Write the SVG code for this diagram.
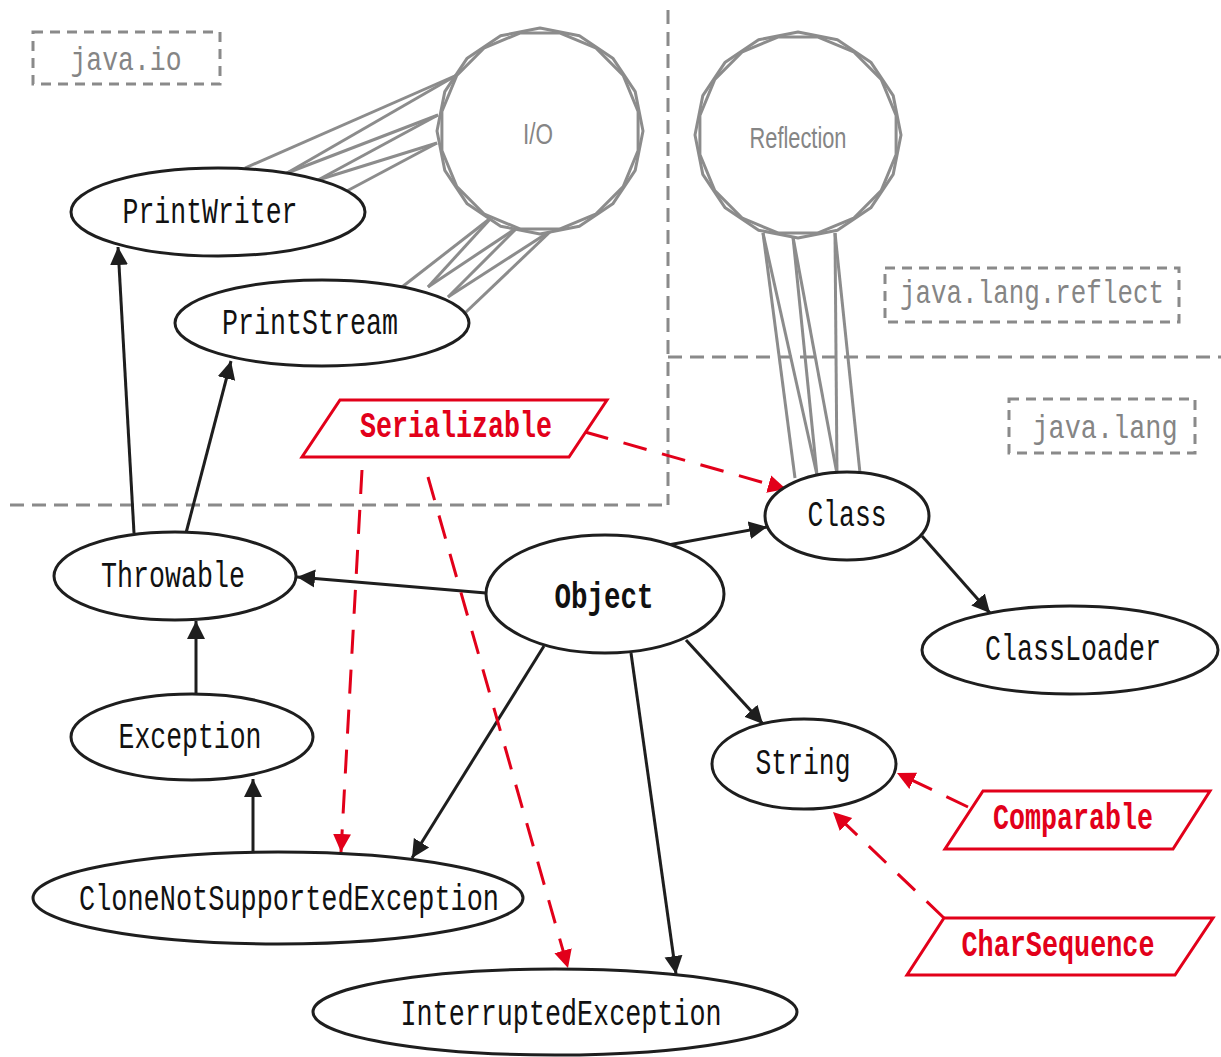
<svg xmlns="http://www.w3.org/2000/svg" width="1221" height="1057" viewBox="0 0 1221 1057">
<style>
.node{fill:#fff;stroke:#1e1e1e;stroke-width:3}
.lbl{font-family:"Liberation Mono",monospace;font-size:36px;fill:#111;text-anchor:middle}
.iface{fill:#fff;stroke:#e2001a;stroke-width:3}
.ilbl{font-family:"Liberation Mono",monospace;font-size:36px;font-weight:bold;fill:#e2001a;text-anchor:middle}
.pkg{fill:none;stroke:#8a8a8a;stroke-width:3;stroke-dasharray:10 7}
.plbl{font-family:"Liberation Mono",monospace;font-size:34px;fill:#858585;text-anchor:middle}
.div{fill:none;stroke:#8a8a8a;stroke-width:3;stroke-dasharray:14 8}
.e{fill:none;stroke:#1e1e1e;stroke-width:3;marker-end:url(#ab)}
.r{fill:none;stroke:#e2001a;stroke-width:3;stroke-dasharray:24 16;marker-end:url(#ar)}
.g{fill:none;stroke:#8c8c8c;stroke-width:3}
.blob{fill:#fff;stroke:#8c8c8c;stroke-width:3;stroke-linejoin:round}
.blobt{font-family:"Liberation Sans",sans-serif;font-size:29px;fill:#858585;text-anchor:middle}
</style>
<defs>
<marker id="ab" markerUnits="userSpaceOnUse" markerWidth="20" markerHeight="20" viewBox="0 0 20 20" refX="18" refY="10" orient="auto"><path d="M0,1 L18,10 L0,19 z" fill="#1e1e1e"/></marker>
<marker id="ar" markerUnits="userSpaceOnUse" markerWidth="20" markerHeight="20" viewBox="0 0 20 20" refX="18" refY="10" orient="auto"><path d="M0,1 L18,10 L0,19 z" fill="#e2001a"/></marker>
<g id="blobshape">
<polygon points="103,0 95.2,39.4 72.8,72.8 39.4,95.2 0,103 -39.4,95.2 -72.8,72.8 -95.2,39.4 -103,0 -95.2,-39.4 -72.8,-72.8 -39.4,-95.2 0,-103 39.4,-95.2 72.8,-72.8 95.2,-39.4"/>
<polygon points="98.1,19.5 83.2,55.6 55.6,83.2 19.5,98.1 -19.5,98.1 -55.6,83.2 -83.2,55.6 -98.1,19.5 -98.1,-19.5 -83.2,-55.6 -55.6,-83.2 -19.5,-98.1 19.5,-98.1 55.6,-83.2 83.2,-55.6 98.1,-19.5"/>
</g>
</defs>
<rect width="1221" height="1057" fill="#fff"/>
<g id="dividers">
<line class="div" x1="668" y1="10" x2="668" y2="505"/>
<line class="div" x1="10" y1="505" x2="668" y2="505"/>
<line class="div" x1="668" y1="357" x2="1221" y2="357"/>
</g>
<g id="packages">
<g id="pkg-java-io"><rect class="pkg" x="33" y="32" width="187" height="52"/><text class="plbl" x="126" y="70" textLength="111" lengthAdjust="spacingAndGlyphs">java.io</text></g>
<g id="pkg-java-lang-reflect"><rect class="pkg" x="885" y="268" width="294" height="54"/><text class="plbl" x="1032" y="303" font-size="28" textLength="264" lengthAdjust="spacingAndGlyphs">java.lang.reflect</text></g>
<g id="pkg-java-lang"><rect class="pkg" x="1009" y="399" width="186" height="54"/><text class="plbl" x="1105" y="438" textLength="145" lengthAdjust="spacingAndGlyphs">java.lang</text></g>
</g>
<g id="connectors">
<g id="io-links">
<line class="g" x1="245" y1="168" x2="457" y2="75"/>
<line class="g" x1="287" y1="173" x2="457" y2="75"/>
<line class="g" x1="287" y1="173" x2="438" y2="115"/>
<line class="g" x1="318" y1="180" x2="438" y2="115"/>
<line class="g" x1="318" y1="180" x2="437" y2="143"/>
<line class="g" x1="345" y1="192" x2="437" y2="143"/>
<line class="g" x1="402" y1="287" x2="492" y2="217"/>
<line class="g" x1="428" y1="287" x2="492" y2="217"/>
<line class="g" x1="428" y1="287" x2="518" y2="227"/>
<line class="g" x1="448" y1="297" x2="518" y2="227"/>
<line class="g" x1="448" y1="297" x2="552" y2="230"/>
<line class="g" x1="465" y1="313" x2="552" y2="230"/>
</g>
<g id="reflection-links">
<line class="g" x1="763" y1="233" x2="795" y2="478"/>
<line class="g" x1="763" y1="233" x2="817" y2="475"/>
<line class="g" x1="793" y1="237" x2="817" y2="475"/>
<line class="g" x1="793" y1="237" x2="837" y2="474"/>
<line class="g" x1="835" y1="233" x2="837" y2="474"/>
<line class="g" x1="835" y1="233" x2="860" y2="473"/>
</g>
<line class="e" x1="134" y1="533" x2="118" y2="247"/>
<line class="e" x1="186" y1="533" x2="231" y2="361"/>
<line class="e" x1="486" y1="593" x2="297" y2="577"/>
<line class="e" x1="196" y1="694" x2="196" y2="621"/>
<line class="e" x1="253" y1="852" x2="253" y2="779"/>
<line class="e" x1="544" y1="646" x2="412" y2="858"/>
<line class="e" x1="631" y1="653" x2="676" y2="974"/>
<line class="e" x1="686" y1="640" x2="763" y2="724"/>
<line class="e" x1="668" y1="545" x2="767" y2="527"/>
<line class="e" x1="922" y1="536" x2="990" y2="613"/>
<line class="r" x1="585" y1="432" x2="786" y2="489"/>
<line class="r" x1="362" y1="470" x2="341" y2="852"/>
<line class="r" x1="428" y1="477" x2="568" y2="968"/>
<line class="r" x1="968" y1="807" x2="897" y2="773"/>
<line class="r" x1="944" y1="918" x2="833" y2="812"/>
</g>
<g id="node-io"><use href="#blobshape" class="blob" transform="translate(540,131)"/><text class="blobt" x="538" y="144" textLength="30" lengthAdjust="spacingAndGlyphs">I/O</text></g>
<g id="node-reflection"><use href="#blobshape" class="blob" transform="translate(798,135)"/><text class="blobt" x="798" y="148" textLength="97" lengthAdjust="spacingAndGlyphs">Reflection</text></g>
<g id="node-printwriter"><ellipse class="node" cx="218" cy="212" rx="147" ry="44"/><text class="lbl" x="210" y="223" textLength="175" lengthAdjust="spacingAndGlyphs">PrintWriter</text></g>
<g id="node-printstream"><ellipse class="node" cx="322" cy="323" rx="147" ry="43"/><text class="lbl" x="310" y="334" textLength="176" lengthAdjust="spacingAndGlyphs">PrintStream</text></g>
<g id="node-throwable"><ellipse class="node" cx="175" cy="576" rx="121" ry="44"/><text class="lbl" x="173" y="587" textLength="144" lengthAdjust="spacingAndGlyphs">Throwable</text></g>
<g id="node-exception"><ellipse class="node" cx="192" cy="737" rx="121" ry="43"/><text class="lbl" x="190" y="748" textLength="143" lengthAdjust="spacingAndGlyphs">Exception</text></g>
<g id="node-clonenotsupportedexception"><ellipse class="node" cx="278" cy="898" rx="245" ry="46"/><text class="lbl" x="289" y="910" textLength="420" lengthAdjust="spacingAndGlyphs">CloneNotSupportedException</text></g>
<g id="node-interruptedexception"><ellipse class="node" cx="555" cy="1012" rx="242" ry="43"/><text class="lbl" x="561" y="1025" textLength="321" lengthAdjust="spacingAndGlyphs">InterruptedException</text></g>
<g id="node-object"><ellipse class="node" cx="605" cy="594" rx="119" ry="59"/><text class="lbl" x="604" y="608" font-weight="bold" textLength="99" lengthAdjust="spacingAndGlyphs">Object</text></g>
<g id="node-class"><ellipse class="node" cx="847" cy="516" rx="82" ry="44"/><text class="lbl" x="847" y="526" textLength="79" lengthAdjust="spacingAndGlyphs">Class</text></g>
<g id="node-classloader"><ellipse class="node" cx="1070" cy="650" rx="148" ry="44"/><text class="lbl" x="1073" y="660" textLength="176" lengthAdjust="spacingAndGlyphs">ClassLoader</text></g>
<g id="node-string"><ellipse class="node" cx="804" cy="764" rx="92" ry="45"/><text class="lbl" x="803" y="774" textLength="95" lengthAdjust="spacingAndGlyphs">String</text></g>
<g id="node-serializable"><polygon class="iface" points="340,400 607,400 569,457 302,457"/><text class="ilbl" x="456" y="437" textLength="192" lengthAdjust="spacingAndGlyphs">Serializable</text></g>
<g id="node-comparable"><polygon class="iface" points="983,791 1210,791 1173,849 945,849"/><text class="ilbl" x="1073" y="829" textLength="160" lengthAdjust="spacingAndGlyphs">Comparable</text></g>
<g id="node-charsequence"><polygon class="iface" points="944,918 1213,918 1175,975 907,975"/><text class="ilbl" x="1058" y="956" textLength="193" lengthAdjust="spacingAndGlyphs">CharSequence</text></g>
</svg>
